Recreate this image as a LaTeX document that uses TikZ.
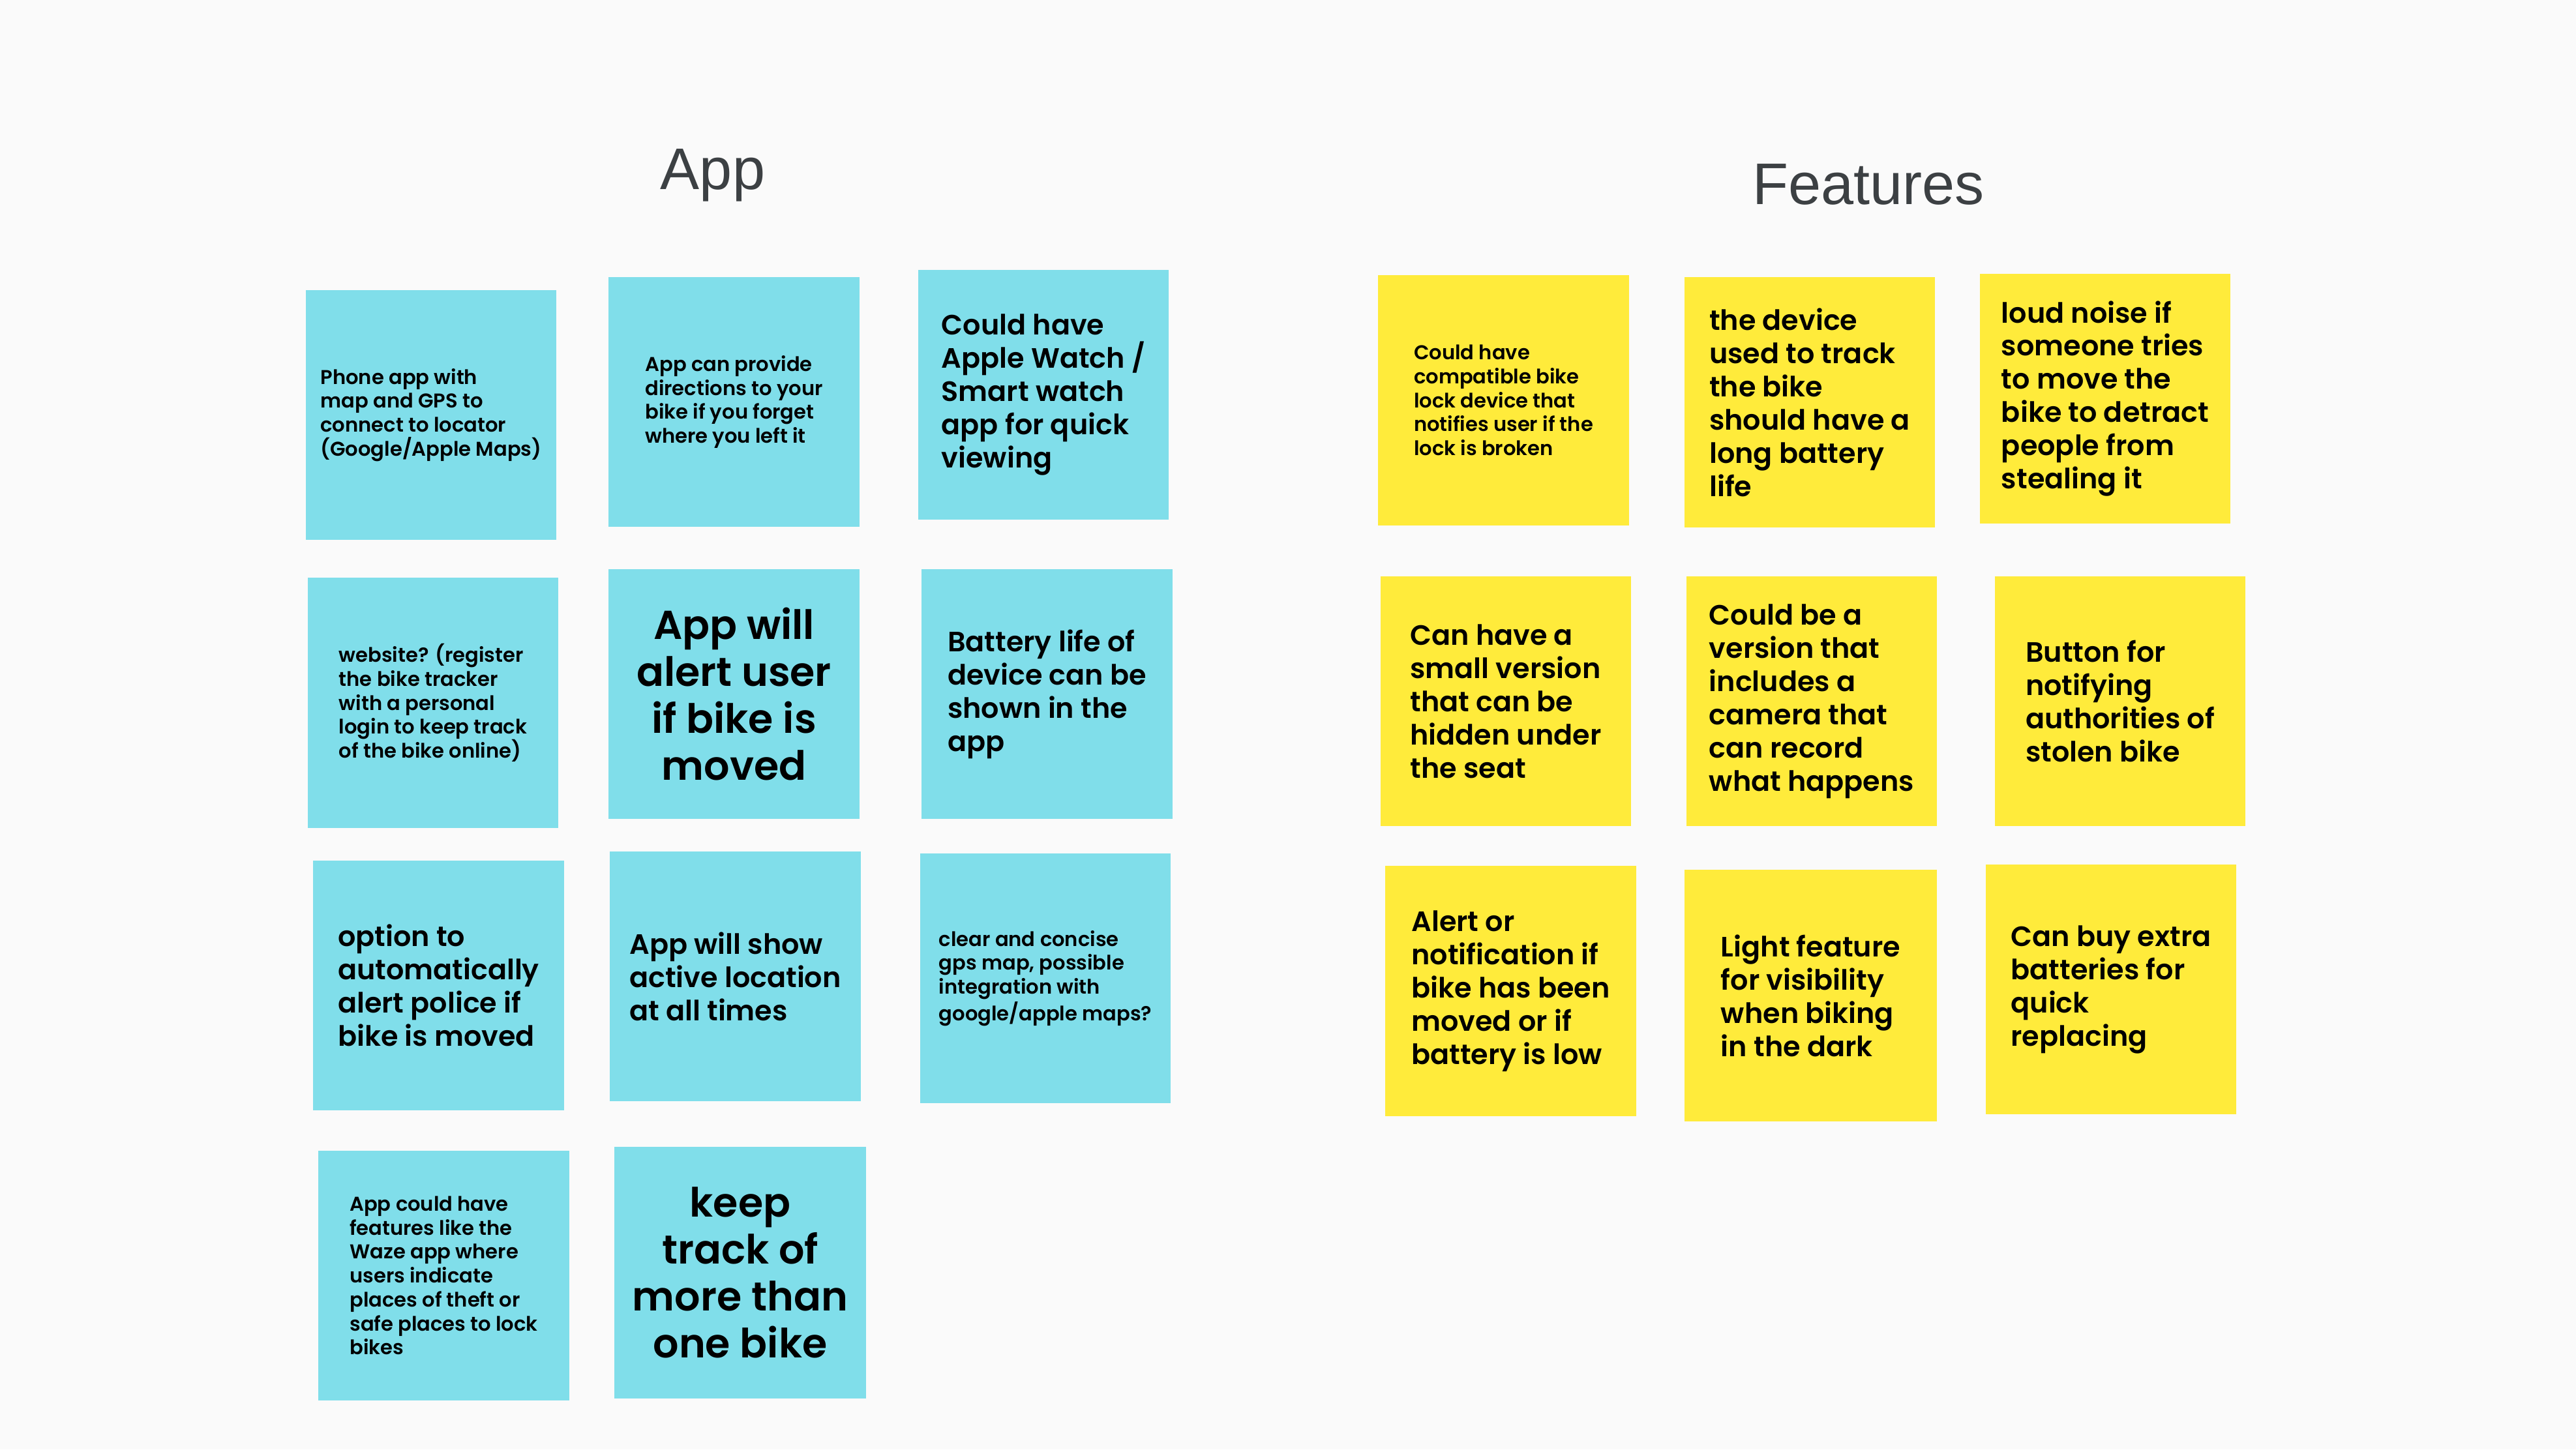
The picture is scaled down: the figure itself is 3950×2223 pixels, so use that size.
\documentclass[tikz,border=0pt]{standalone}
\usepackage{fontspec}
\setmainfont{Poppins}[UprightFont=* SemiBold]
\newfontfamily\titlefont{Liberation Sans}
\definecolor{pagebg}{HTML}{FAFAFA}
\definecolor{notecyan}{HTML}{80DEEA}
\definecolor{noteyellow}{HTML}{FFEB3B}
\definecolor{titlegray}{HTML}{3C4043}
\begin{document}
\begin{tikzpicture}[x=0.01cm, y=-0.01cm,
  note/.style={rectangle, minimum width=3.84cm, minimum height=3.83cm,
    inner sep=0pt, align=left, text=black},
  app/.style={note, fill=notecyan},
  feat/.style={note, fill=noteyellow},
  smalltext/.style={font=\fontsize{8.7}{10.45}\selectfont},
  midtext/.style={font=\fontsize{12.2}{14.5}\selectfont},
  bigtext/.style={font=\fontsize{17.6}{20.5}\selectfont, align=center},
  heading/.style={anchor=base, text=titlegray, font=\titlefont\fontsize{25.6}{30}\selectfont}]

% page
\fill[pagebg] (0,0) rectangle (3950,2223);
\useasboundingbox (0,0) rectangle (3950,2223);

% headings
\node[heading] (appTitle) at (1093,290) {App};
\node[heading] (featTitle) at (2865,313) {Features};

% App column
\node[app, smalltext] (a1) at (661,636.5) {Phone app with\\map and GPS to\\connect to locator\\(Google/Apple Maps)};
\node[app, smalltext] (a2) at (1125.5,616.5) {App can provide\\directions to your\\bike if you forget\\where you left it};
\node[app, midtext] (a3) at (1600,605.5) {Could have\\Apple Watch /\\Smart watch\\app for quick\\viewing};
\node[app, smalltext] (a4) at (664,1078) {website? (register\\the bike tracker\\with a personal\\login to keep track\\of the bike online)};
\node[app, bigtext] (a5) at (1125.5,1064.5) {App will\\alert user\\if bike is\\moved};
\node[app, midtext] (a6) at (1605.5,1064.5) {Battery life of\\device can be\\shown in the\\app};
\node[app, midtext] (a7) at (672.5,1511.5) {option to\\automatically\\alert police if\\bike is moved};
\node[app, midtext] (a8) at (1127.5,1497.5) {App will show\\active location\\at all times};
\node[app, smalltext] (a9) at (1603,1500.5) {clear and concise\\gps map, possible\\integration with\\google/apple maps?};
\node[app, smalltext] (a10) at (680.5,1956.5) {App could have\\features like the\\Waze app where\\users indicate\\places of theft or\\safe places to lock\\bikes};
\node[app, bigtext, minimum width=3.86cm, minimum height=3.86cm] (a11) at (1135,1952) {keep\\track of\\more than\\one bike};

% Features column
\node[feat, smalltext] (f1) at (2305.5,614) {Could have\\compatible bike\\lock device that\\notifies user if the\\lock is broken};
\node[feat, midtext] (f2) at (2775,617) {the device\\used to track\\the bike\\should have a\\long battery\\life};
\node[feat, midtext] (f3) at (3228,611.5) {loud noise if\\someone tries\\to move the\\bike to detract\\people from\\stealing it};
\node[feat, midtext] (f4) at (2309,1075.5) {Can have a\\small version\\that can be\\hidden under\\the seat};
\node[feat, midtext] (f5) at (2778,1075.5) {Could be a\\version that\\includes a\\camera that\\can record\\what happens};
\node[feat, midtext] (f6) at (3251,1075.5) {Button for\\notifying\\authorities of\\stolen bike};
\node[feat, midtext] (f7) at (2316.5,1520) {Alert or\\notification if\\bike has been\\moved or if\\battery is low};
\node[feat, midtext, minimum width=3.87cm, minimum height=3.86cm] (f8) at (2776.5,1527) {Light feature\\for visibility\\when biking\\in the dark};
\node[feat, midtext] (f9) at (3237,1517.5) {Can buy extra\\batteries for\\quick\\replacing};
\end{tikzpicture}
\end{document}
